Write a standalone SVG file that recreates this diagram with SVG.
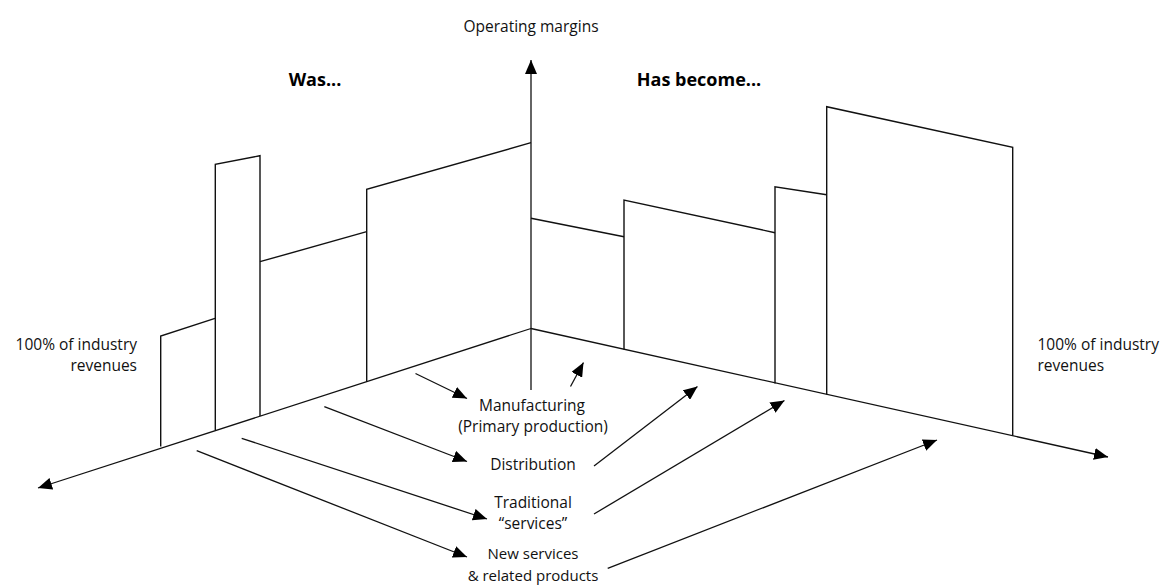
<svg xmlns="http://www.w3.org/2000/svg" width="1167" height="586" viewBox="0 0 1167 586">
<style>
.ln{fill:none;stroke:#111;stroke-width:1.4;stroke-linejoin:miter}
.ar{fill:none;stroke:#111;stroke-width:1.3;marker-end:url(#ah)}
.t{font-family:"Open Sans","DejaVu Sans",sans-serif;font-size:15.5px;fill:#111}
.s{font-size:15px}
.b{font-family:"Open Sans","DejaVu Sans",sans-serif;font-size:18px;font-weight:bold;fill:#000}
.m{text-anchor:middle}
</style>
<defs>
<marker id="ah" viewBox="0 0 14 12" refX="14" refY="6" markerWidth="14" markerHeight="12" orient="auto" markerUnits="userSpaceOnUse">
<path d="M0,0 L14,6 L0,12 Z" fill="#000"/>
</marker>
</defs>
<rect width="1167" height="586" fill="#fff"/>
<g id="axes">
<line class="ar" x1="531" y1="390" x2="531" y2="60"/>
<line class="ar" x1="531" y1="328.5" x2="38" y2="488"/>
<line class="ar" x1="531" y1="328.5" x2="1108" y2="457"/>
</g>
<g id="was-bars">
<polyline class="ln" points="160.7,446.5 160.7,336 215,318.3"/>
<polyline class="ln" points="215.3,430 215.3,164.3 260,155.7 260,416"/>
<polyline class="ln" points="260,261.7 366.7,231.7"/>
<polyline class="ln" points="366.7,382 366.7,189.3 531,142.7"/>
</g>
<g id="become-bars">
<polyline class="ln" points="531,218.3 624,236.7"/>
<polyline class="ln" points="624,349.6 624,200 775,232.7"/>
<polyline class="ln" points="775,383.5 775,186.7 826.7,194.7"/>
<polyline class="ln" points="826.7,394.6 826.7,106.7 1012.7,147.3 1012.7,435.8"/>
</g>
<g id="connectors">
<line class="ar" x1="415.5" y1="373.5" x2="467" y2="398.5"/>
<line class="ar" x1="324.3" y1="406.7" x2="467" y2="461.5"/>
<line class="ar" x1="241.7" y1="438.3" x2="487" y2="519"/>
<line class="ar" x1="196.7" y1="450.7" x2="467" y2="557"/>
<line class="ar" x1="570.5" y1="386.5" x2="583.5" y2="362.5"/>
<line class="ar" x1="594" y1="466" x2="697.5" y2="386.5"/>
<line class="ar" x1="594" y1="514" x2="784.5" y2="400.5"/>
<line class="ar" x1="607.7" y1="568.3" x2="937" y2="440"/>
</g>
<g id="title-y"><text class="t m" x="531" y="32">Operating margins</text></g>
<g id="was"><text class="b m" x="315" y="86">Was...</text></g>
<g id="has-become"><text class="b m" x="699" y="86">Has become...</text></g>
<g id="left-revenues">
<text class="t" text-anchor="end" x="137" y="349.5">100% of industry</text>
<text class="t" text-anchor="end" x="137" y="370.5">revenues</text>
</g>
<g id="right-revenues">
<text class="t" x="1037.5" y="349.5">100% of industry</text>
<text class="t" x="1037.5" y="370.5">revenues</text>
</g>
<g id="manufacturing">
<text class="t m" x="532" y="410.5">Manufacturing</text>
<text class="t m" x="533" y="431.5">(Primary production)</text>
</g>
<g id="distribution"><text class="t m" x="533" y="469.5">Distribution</text></g>
<g id="traditional">
<text class="t m" x="533" y="507.5">Traditional</text>
<text class="t m" x="533" y="528.5">“services”</text>
</g>
<g id="new-services">
<text class="t s m" x="533" y="559">New services</text>
<text class="t s m" x="533" y="580.5">&amp; related products</text>
</g>
</svg>
